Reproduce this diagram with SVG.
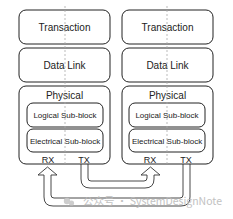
<svg xmlns="http://www.w3.org/2000/svg" width="233" height="219" viewBox="0 0 233 219">
<style>
.box{fill:#fff;stroke:#222;stroke-width:1}
.sub{fill:#fff;stroke:#222;stroke-width:1}
.t{font-family:"Liberation Sans",Arial,sans-serif;font-size:10px;fill:#222;text-anchor:middle}
.s{font-family:"Liberation Sans",Arial,sans-serif;font-size:8px;fill:#222;text-anchor:middle}
.p{font-family:"Liberation Sans",Arial,sans-serif;font-size:9px;fill:#222;text-anchor:middle}
.d{stroke:#aaa;stroke-width:0.8;stroke-dasharray:2 2;fill:none}
.arr{fill:none;stroke:#333;stroke-width:0.9;stroke-linejoin:miter}
.wm{font-family:"Noto Sans CJK SC","Noto Sans",sans-serif;font-size:10px;fill:#bbb}
</style>
<rect width="233" height="219" fill="#fff"/>
<g id="left-stack">
  <g id="l-transaction"><rect class="box" x="19" y="10" width="91" height="34" rx="7"/><text class="t" x="64.5" y="30.5">Transaction</text></g>
  <g id="l-datalink"><rect class="box" x="19" y="48" width="91" height="34" rx="7"/><text class="t" x="64.5" y="68.5">Data Link</text></g>
  <g id="l-physical"><rect class="box" x="19" y="86" width="91" height="78" rx="7"/><text class="t" x="64.5" y="98.5">Physical</text>
    <g id="l-logical"><rect class="sub" x="27" y="103" width="76" height="24" rx="6"/><text class="s" x="65" y="118">Logical Sub-block</text></g>
    <g id="l-electrical"><rect class="sub" x="27" y="129" width="76" height="23" rx="6"/><text class="s" x="65" y="144">Electrical Sub-block</text></g>
    <text class="p" x="48" y="162.5">RX</text><text class="p" x="84" y="162.5">TX</text>
  </g>
</g>
<g id="right-stack">
  <g id="r-transaction"><rect class="box" x="122" y="10" width="91" height="34" rx="7"/><text class="t" x="167.5" y="30.5">Transaction</text></g>
  <g id="r-datalink"><rect class="box" x="122" y="48" width="91" height="34" rx="7"/><text class="t" x="167.5" y="68.5">Data Link</text></g>
  <g id="r-physical"><rect class="box" x="122" y="86" width="91" height="78" rx="7"/><text class="t" x="167.5" y="98.5">Physical</text>
    <g id="r-logical"><rect class="sub" x="129" y="103" width="76" height="24" rx="6"/><text class="s" x="167" y="118">Logical Sub-block</text></g>
    <g id="r-electrical"><rect class="sub" x="129" y="129" width="76" height="23" rx="6"/><text class="s" x="167" y="144">Electrical Sub-block</text></g>
    <text class="p" x="150" y="162.5">RX</text><text class="p" x="186" y="162.5">TX</text>
  </g>
</g>
<g id="connectors">
  <line class="d" x1="65" y1="6" x2="65" y2="164"/>
  <line class="d" x1="167" y1="6" x2="167" y2="164"/>
  <path class="arr" d="M81 164 V179 Q81 188 90 188 H145 Q154 188 154 179 V175 H160 L150.5 167 L141 175 H147 V178 Q147 181 144 181 H91 Q88 181 88 178 V164"/>
  <path class="arr" d="M190 164 V197 Q190 206 181 206 H53 Q44 206 44 197 V175 H38 L47.5 167 L57 175 H51 V195 Q51 198 54 198 H180 Q183 198 183 195 V164"/>
</g>
<g id="watermark" opacity="0.9">
  <circle cx="67" cy="201" r="3.2" fill="#c8c8c8"/>
  <circle cx="71.5" cy="203" r="2.6" fill="#c8c8c8"/>
  <text class="wm" x="83" y="205" textLength="139" lengthAdjust="spacingAndGlyphs">公众号 · SystemDesignNote</text>
</g>
</svg>
